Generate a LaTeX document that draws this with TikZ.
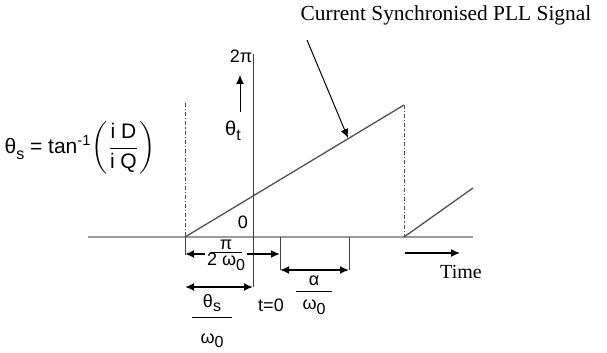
\documentclass[tikz,border=0pt]{standalone}
\usepackage{fontspec}
\usepackage{amsmath}
\setmainfont{Liberation Serif}
\newfontfamily\symf{Liberation Sans}
\usetikzlibrary{arrows.meta}
\definecolor{axisgray}{HTML}{9A9A9A}
\definecolor{linegray}{HTML}{505050}
\newcommand{\lowsub}[1]{\raisebox{-.5ex}{\footnotesize #1}}

\begin{document}
\begin{tikzpicture}[x=0.5pt,y=-0.5pt,font=\symf\fontsize{9}{10}\selectfont,
  >={Latex[length=4.5pt,width=4pt]},
  axis/.style={axisgray,line width=1.3pt},
  ramp/.style={linegray,line width=.65pt},
  dashdot/.style={linegray,line width=.5pt,dash pattern=on 2pt off 1pt on .6pt off 1pt},
  tick/.style={black!75,line width=.5pt},
  span/.style={<->,line width=.9pt},
  frac/.style={align=center,inner sep=1pt}]
  \useasboundingbox (0,0) rectangle (607,353);
  % axes and saw-tooth
  \coordinate (ax0) at (88,237);
  \coordinate (ax1) at (473,237);
  \coordinate (rs) at (185,237);
  \coordinate (rt) at (404,105);
  \coordinate (rb) at (404,237);
  \coordinate (r2) at (473,188);
  \coordinate (ds) at (185,103);
  \coordinate (va0) at (253,54);
  \coordinate (va1) at (253,287);
  \draw[axis] (ax0) -- (ax1);
  \draw[tick] (va0) -- (va1);
  \draw[dashdot] (ds) -- (rs);
  \draw[dashdot] (rt) -- (rb);
  \draw[ramp] (rs) -- (rt);
  \draw[ramp] (rb) -- (r2);
  % vertical axis labels
  \node (twopi) at (241,56) {2π};
  \coordinate (up0) at (240,112);
  \coordinate (up1) at (240,75);
  \draw[->,line width=.5pt] (up0) -- (up1);
  \node (thetat) at (233,131) {\fontsize{10}{11}\selectfont θ\lowsub{t}};
  \node (zero) at (243,222) {0};
  \node (formula) at (80,148) {\fontsize{10.5}{12}\selectfont θ\lowsub{s} = tan$^{\text{-1}}\!\left(\dfrac{\text{i D}}{\text{i Q}}\right)$};
  % time spans
  \coordinate (l0) at (185,255);
  \coordinate (m0) at (280,237);
  \coordinate (m1) at (280,270);
  \coordinate (n0) at (349,237);
  \coordinate (n1) at (349,270);
  \coordinate (b0) at (185,287);
  \coordinate (p1) at (280,254);
  \draw[tick] (rs) -- (l0);
  \draw[tick] (m0) -- (m1);
  \draw[tick] (n0) -- (n1);
  \draw[span] (rs|-p1) -- (p1);
  \draw[span] (b0) -- (va1);
  \draw[span] (m1) -- (n1);
  \node[frac,fill=white] (piw) at (226,255) {π\\[-6pt]\rule[.5ex]{16pt}{.5pt}\\[-6pt]2 ω\lowsub{0}};
  \node[frac] (aw) at (314,295) {α\\[-4pt]\rule[.6ex]{18pt}{.5pt}\\[-4pt]ω\lowsub{0}};
  \node[frac] (tw) at (212,321) {θ\lowsub{s}\\[-1pt]\rule[3.5pt]{20pt}{.5pt}\\[-1pt]ω\lowsub{0}};
  \node (tzero) at (271,305) {t=0};
  % time direction
  \coordinate (tm0) at (405,253);
  \coordinate (tm1) at (460,253);
  \draw[->,line width=.7pt] (tm0) -- (tm1);
  \node[font=\fontsize{10}{12}\selectfont\rmfamily] (time) at (461,272) {Time};
  % signal label
  \node[font=\fontsize{10.7}{12}\selectfont\rmfamily] (title) at (446,15) {Current Synchronised PLL Signal};
  \coordinate (lead) at (307,40);
  \coordinate (tip) at (348,138);
  \draw[->,line width=.5pt] (lead) -- (tip);
\end{tikzpicture}
\end{document}
